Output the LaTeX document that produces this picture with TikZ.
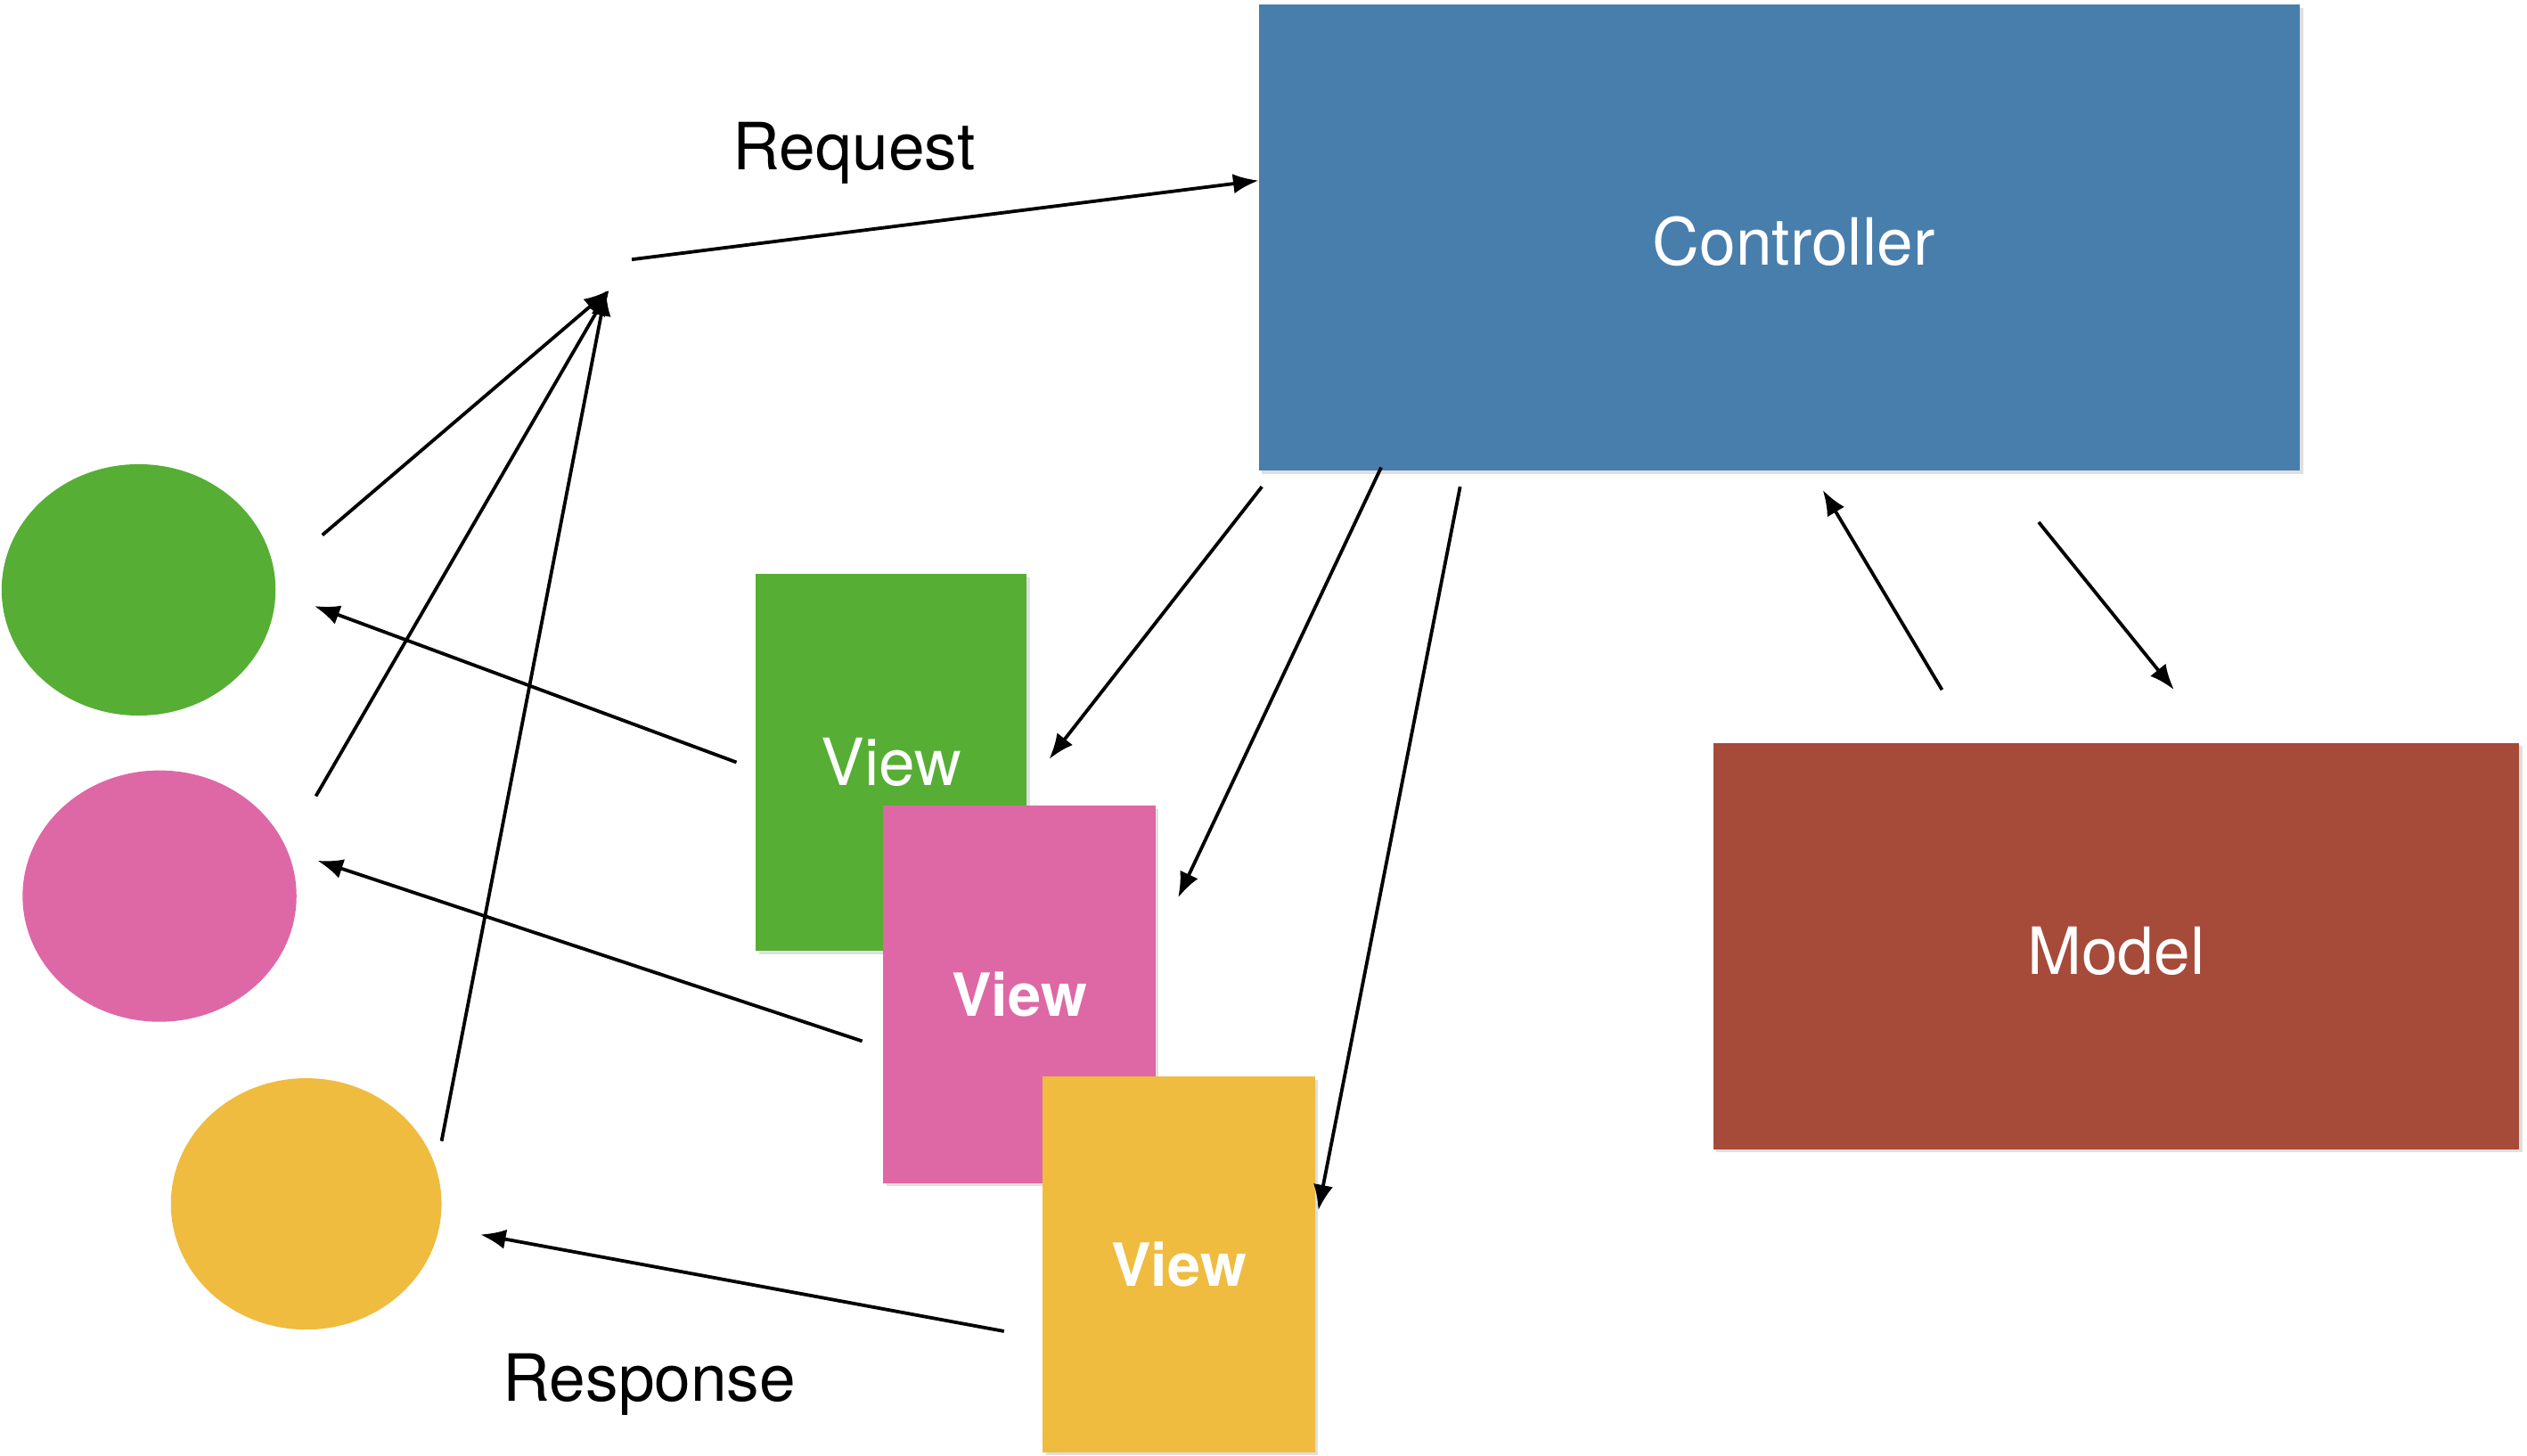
\documentclass[tikz,border=0pt]{standalone}
\usepackage{fontspec}
\setmainfont{TeX Gyre Heros}
\usetikzlibrary{arrows.meta,shadows,shapes.geometric}

\definecolor{ctrlblue}{RGB}{72,126,172}
\definecolor{modelred}{RGB}{166,74,58}
\definecolor{vgreen}{RGB}{86,174,53}
\definecolor{vpink}{RGB}{222,104,165}
\definecolor{vyellow}{RGB}{239,188,64}

\tikzset{
  box/.style={rectangle, draw=none, text=white, font=\fontsize{23}{26}\selectfont,
    drop shadow={shadow xshift=0.04cm, shadow yshift=-0.04cm, opacity=0.25}},
  boldbox/.style={box, font=\fontsize{21}{24}\selectfont\bfseries},
  blob/.style={ellipse, draw=none, minimum width=3.4cm, minimum height=3.12cm},
  arr/.style={-{Latex[length=9pt,width=7pt]}, line width=1.2pt},
  lbl/.style={font=\fontsize{23}{26}\selectfont}
}

\begin{document}
\begin{tikzpicture}[x=0.02cm,y=-0.02cm]
    \useasboundingbox (0,0) rectangle (1568,903);

    \node[box, fill=ctrlblue, minimum width=12.92cm, minimum height=5.78cm] (ctrl) at (1104,147.5) {};
    \node[lbl, text=white] (ctrltext) at (1113,150) {Controller};
    \node[box, fill=modelred, minimum width=10cm, minimum height=5.04cm] (model) at (1313,587) {};
    \node[lbl, text=white] (modeltext) at (1313,590) {Model};

    \node[box, fill=vgreen, minimum width=3.36cm, minimum height=4.68cm] (vg) at (553,473) {View};
    \node[boldbox, fill=vpink, minimum width=3.38cm, minimum height=4.68cm] (vp) at (632.5,617) {View};
    \node[boldbox, fill=vyellow, minimum width=3.38cm, minimum height=4.66cm] (vy) at (731.5,784.5) {View};

    \node[blob, fill=vgreen] (cg) at (86,366) {};
    \node[blob, fill=vpink] (cp) at (99,556) {};
    \node[blob, fill=vyellow, minimum width=3.36cm] (cy) at (190,747) {};

    \node[lbl] (req) at (530,95) {Request};
    \node[lbl] (resp) at (403,859) {Response};

    % request side
    \coordinate (hub) at (378,180);
    \coordinate (reqstart) at (392,161);
    \coordinate (reqend) at (781,112);
    \coordinate (gout) at (200,332);
    \coordinate (pout) at (196,494);
    \coordinate (yout) at (274,708);
    \draw[arr] (reqstart) -- (reqend);
    \draw[arr] (gout) -- (hub);
    \draw[arr] (pout) -- (hub);
    \draw[arr] (yout) -- (376,180);

    % response side
    \coordinate (gin) at (195,376);
    \coordinate (pin) at (197,534);
    \coordinate (yin) at (298,766);
    \draw[arr] (457,473) -- (gin);
    \draw[arr] (535,646) -- (pin);
    \draw[arr] (623,826) -- (yin);

    % controller to views
    \coordinate (c1) at (783,302);
    \coordinate (c2) at (857,290);
    \coordinate (c3) at (906,302);
    \draw[arr] (c1) -- (651,471);
    \draw[arr] (c2) -- (731,557);
    \draw[arr] (c3) -- (818,751);

    % controller and model
    \coordinate (mup) at (1205,428);
    \coordinate (mdown) at (1349,428);
    \draw[arr] (mup) -- (1131,304);
    \draw[arr] (1265,324) -- (mdown);
\end{tikzpicture}
\end{document}
